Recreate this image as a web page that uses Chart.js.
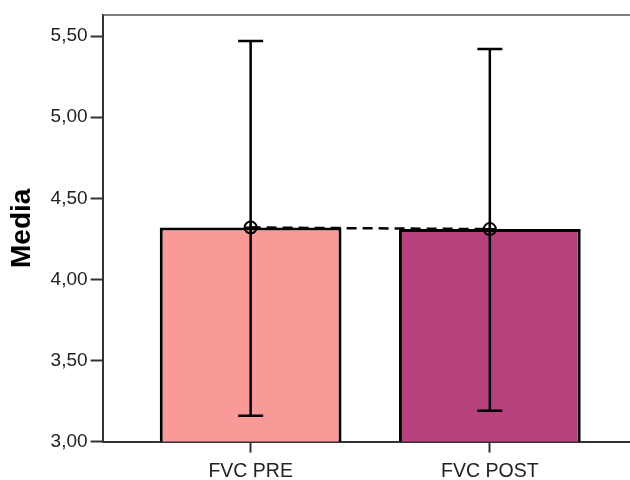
<!DOCTYPE html>
<html>
<head>
<meta charset="utf-8">
<script src="https://cdn.jsdelivr.net/npm/chart.js@4.4.1/dist/chart.umd.min.js"></script>
<style>
  html, body { margin: 0; padding: 0; background: #fff; }
  #wrap { width: 630px; height: 480px; }
</style>
</head>
<body>
<div id="wrap"><canvas id="chart"></canvas></div>
<script>
// FVC means with error bar limits
const categories = ['FVC PRE', 'FVC POST'];
const means = [4.32, 4.31];
const lowerLimits = [3.16, 3.19];
const upperLimits = [5.47, 5.42];
const barColors = ['#f99a98', '#b5427d'];
const yTicks = [3.0, 3.5, 4.0, 4.5, 5.0, 5.5];

const points = means.map((m, i) => ({ x: i, y: m }));

// Top frame line plus the error bars, drawn from the scales
const errorBars = {
  id: 'errorBars',
  beforeDatasetsDraw(chart) {
    const { ctx, chartArea } = chart;
    ctx.save();
    ctx.strokeStyle = '#555';
    ctx.lineWidth = 1.5;
    ctx.beginPath();
    ctx.moveTo(chartArea.left, chartArea.top);
    ctx.lineTo(chartArea.right, chartArea.top);
    ctx.stroke();
    ctx.restore();
  },
  afterDatasetsDraw(chart) {
    const { ctx, scales: { x, y } } = chart;
    ctx.save();
    ctx.strokeStyle = '#000';
    ctx.lineWidth = 2.5;
    categories.forEach((c, i) => {
      const px = x.getPixelForValue(i);
      const top = y.getPixelForValue(upperLimits[i]);
      const bot = y.getPixelForValue(lowerLimits[i]);
      ctx.beginPath();
      ctx.moveTo(px, top);
      ctx.lineTo(px, bot);
      ctx.moveTo(px - 12.5, top);
      ctx.lineTo(px + 12.5, top);
      ctx.moveTo(px - 12.5, bot);
      ctx.lineTo(px + 12.5, bot);
      ctx.stroke();
    });
    ctx.restore();
  }
};

new Chart(document.getElementById('chart'), {
  data: {
    datasets: [
      {
        type: 'line',
        data: points,
        borderColor: '#000',
        borderWidth: 2.5,
        borderDash: [10, 6],
        pointRadius: 0,
        order: 3
      },
      {
        type: 'bar',
        data: points,
        backgroundColor: barColors,
        borderColor: '#000',
        borderWidth: 3,
        barPercentage: 0.76,
        categoryPercentage: 1,
        order: 2
      },
      {
        type: 'scatter',
        data: points,
        pointStyle: 'circle',
        pointRadius: 6,
        borderColor: '#000',
        borderWidth: 2,
        backgroundColor: 'rgba(0,0,0,0)',
        order: 1
      },
      {
        type: 'scatter',
        data: points,
        pointStyle: 'cross',
        pointRadius: 6,
        borderColor: '#000',
        borderWidth: 2,
        order: 1
      }
    ]
  },
  options: {
    responsive: true,
    maintainAspectRatio: false,
    animation: false,
    layout: { autoPadding: false, padding: { top: 15, right: 0, left: 5, bottom: -10 } },
    plugins: {
      legend: { display: false },
      tooltip: { enabled: false }
    },
    scales: {
      x: {
        type: 'linear',
        offset: false,
        min: -0.619,
        max: 1.586,
        afterBuildTicks: scale => { scale.ticks = categories.map((c, i) => ({ value: i })); },
        ticks: {
          callback: v => categories[v],
          color: '#222',
          font: { family: 'Liberation Sans, Arial', size: 19.5 },
          padding: 7,
          maxRotation: 0
        },
        grid: { offset: false, drawOnChartArea: false, tickLength: 11, tickColor: '#333', tickWidth: 2 },
        border: { color: '#333', width: 2 }
      },
      y: {
        min: 3.0,
        max: 5.63,
        afterBuildTicks: scale => { scale.ticks = yTicks.map(v => ({ value: v })); },
        ticks: {
          callback: v => v.toFixed(2).replace('.', ','),
          color: '#222',
          font: { family: 'Liberation Sans, Arial', size: 19 },
          padding: 3
        },
        grid: { drawOnChartArea: false, tickLength: 12, tickColor: '#333', tickWidth: 2 },
        border: { color: '#333', width: 2 },
        title: {
          display: true,
          text: 'Media',
          color: '#000',
          font: { family: 'Liberation Sans, Arial', size: 28, weight: 'bold' },
          padding: { top: 0, bottom: 9 }
        }
      }
    }
  },
  plugins: [errorBars]
});
</script>
</body>
</html>
